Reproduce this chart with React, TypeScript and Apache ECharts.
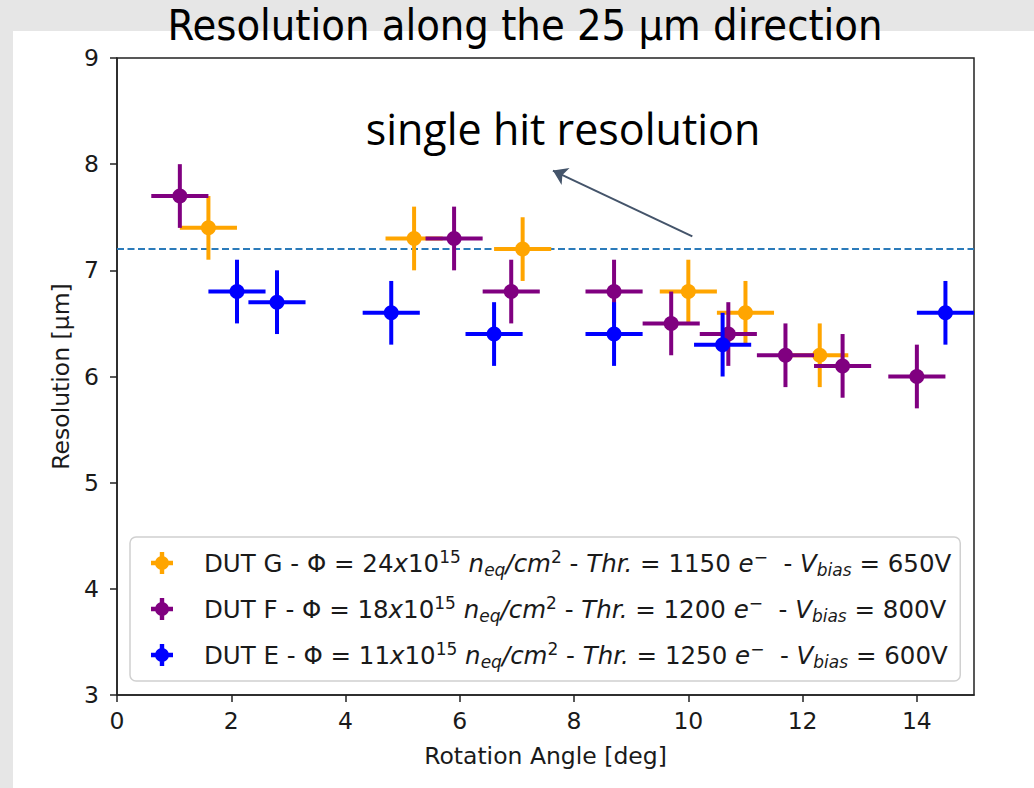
import React, { useEffect, useRef } from "react";
import * as echarts from "echarts";

// ---- data ----
const xTicks = [0, 2, 4, 6, 8, 10, 12, 14];
const yTicks = [3, 4, 5, 6, 7, 8, 9];

const gAngle = [1.6, 5.2, 7.1, 10.0, 11.0, 12.3];
const gRes = [7.4, 7.3, 7.2, 6.8, 6.6, 6.2];

const fAngle = [1.1, 5.9, 6.9, 8.7, 9.7, 10.7, 11.7, 12.7, 14.0];
const fRes = [7.7, 7.3, 6.8, 6.8, 6.5, 6.4, 6.2, 6.1, 6.0];

const eAngle = [2.1, 2.8, 4.8, 6.6, 8.7, 10.6, 14.5];
const eRes = [6.8, 6.7, 6.6, 6.4, 6.4, 6.3, 6.6];

const angleErr = 0.5;
const resErr = 0.3;

const singleHitRes = 7.2;
const arrowTail = [10.07, 7.32];
const arrowTip = [7.63, 7.94];

const seriesNames = ["DUT G", "DUT F", "DUT E"];
const seriesColors = ["#FFA500", "#800080", "#0000FF"];
const legendText: Record<string, string> = {
  "DUT G":
    "{n|DUT G - Φ = 24}{i|x}{n|10}{sup|15}{n| }{i|n}{sub|eq}{i|/cm}{sup|2}{n| - }{i|Thr.}{n| = 1150 }{i|e}{sup|−}{n|  - }{i|V}{sub|bias}{n| = 650V}",
  "DUT F":
    "{n|DUT F - Φ = 18}{i|x}{n|10}{sup|15}{n| }{i|n}{sub|eq}{i|/cm}{sup|2}{n| - }{i|Thr.}{n| = 1200 }{i|e}{sup|−}{n|  - }{i|V}{sub|bias}{n| = 800V}",
  "DUT E":
    "{n|DUT E - Φ = 11}{i|x}{n|10}{sup|15}{n| }{i|n}{sub|eq}{i|/cm}{sup|2}{n| - }{i|Thr.}{n| = 1250 }{i|e}{sup|−}{n|  - }{i|V}{sub|bias}{n| = 600V}",
};

const FONT = "'DejaVu Sans', sans-serif";
const TXT = "#1a1a1a";
const FS = 23.5;
const LFS = 24.5;

function makeData(xs: number[], ys: number[]) {
  return xs.map((x, i) => [x, ys[i], angleErr, resErr]);
}

function errRender(color: string) {
  return (params: any, api: any) => {
    const x = api.value(0);
    const y = api.value(1);
    const xe = api.value(2);
    const ye = api.value(3);
    const c = api.coord([x, y]);
    const l = api.coord([x - xe, y]);
    const r = api.coord([x + xe, y]);
    const b = api.coord([x, y - ye]);
    const t = api.coord([x, y + ye]);
    const lineStyle = { stroke: color, lineWidth: 4 };
    return {
      type: "group",
      children: [
        { type: "line", shape: { x1: l[0], y1: l[1], x2: r[0], y2: r[1] }, style: lineStyle },
        { type: "line", shape: { x1: b[0], y1: b[1], x2: t[0], y2: t[1] }, style: lineStyle },
        { type: "circle", shape: { cx: c[0], cy: c[1], r: 7.5 }, style: { fill: color } },
      ],
    };
  };
}

const ICON =
  "path://M8.8,0H13.2V22H8.8Z M0,8.8H22V13.2H0Z M18,11A7,7 0 1,1 4,11A7,7 0 1,1 18,11Z";

export default function App() {
  const ref = useRef<HTMLDivElement>(null);
  useEffect(() => {
    if (!ref.current) return;
    const chart = echarts.init(ref.current, undefined, { renderer: "svg" });
    const datasets = [makeData(gAngle, gRes), makeData(fAngle, fRes), makeData(eAngle, eRes)];
    const option: any = {
      animation: false,
      backgroundColor: "#ffffff",
      grid: {
        left: 117,
        right: 60,
        top: 58,
        bottom: 93,
        show: true,
        borderColor: "#222",
        borderWidth: 1.5,
        backgroundColor: "transparent",
      },
      xAxis: {
        type: "value",
        min: 0,
        max: 15,
        interval: 2,
        name: "Rotation Angle [deg]",
        nameLocation: "middle",
        nameGap: 49,
        nameTextStyle: { fontFamily: FONT, fontSize: FS, color: TXT },
        axisLine: { show: true, lineStyle: { color: "#222", width: 1.5 } },
        axisTick: { show: true, inside: false, length: 7, lineStyle: { color: "#222", width: 1.5 }, customValues: xTicks },
        axisLabel: { fontFamily: FONT, fontSize: FS, color: TXT, margin: 14, customValues: xTicks },
        splitLine: { show: false },
      },
      yAxis: {
        type: "value",
        min: 3,
        max: 9,
        interval: 1,
        name: "Resolution [µm]",
        nameLocation: "middle",
        nameGap: 43,
        nameRotate: 90,
        nameTextStyle: { fontFamily: FONT, fontSize: FS, color: TXT },
        axisLine: { show: true, lineStyle: { color: "#222", width: 1.5 } },
        axisTick: { show: true, inside: false, length: 7, lineStyle: { color: "#222", width: 1.5 }, customValues: yTicks },
        axisLabel: { fontFamily: FONT, fontSize: FS, color: TXT, margin: 18, customValues: yTicks },
        splitLine: { show: false },
      },
      legend: {
        data: seriesNames,
        orient: "vertical",
        left: 130,
        top: 537,
        backgroundColor: "rgba(255,255,255,0.9)",
        borderColor: "#d0d0d0",
        borderWidth: 1.5,
        borderRadius: 6,
        padding: [11, 9, 11, 21],
        itemGap: 16,
        itemWidth: 22,
        itemHeight: 22,
        icon: ICON,
        formatter: (name: string) => legendText[name] || name,
        textStyle: {
          fontFamily: FONT,
          fontSize: LFS,
          color: TXT,
          padding: [0, 0, 0, 26],
          rich: {
            n: { fontFamily: FONT, fontSize: LFS, color: TXT, lineHeight: 30 },
            i: { fontFamily: FONT, fontSize: LFS, fontStyle: "italic", color: TXT, lineHeight: 30 },
            sup: { fontFamily: FONT, fontSize: 17, color: TXT, lineHeight: 13, verticalAlign: "top" },
            sub: { fontFamily: FONT, fontSize: 17, fontStyle: "italic", color: TXT, lineHeight: 15, verticalAlign: "bottom" },
          },
        },
      },
      graphic: [
        { type: "rect", left: 0, top: 0, shape: { width: 1034, height: 31 }, style: { fill: "#e6e6e6" }, z: -10, silent: true },
        { type: "rect", left: 0, top: 0, shape: { width: 13, height: 788 }, style: { fill: "#e6e6e6" }, z: -10, silent: true },
        {
          type: "text",
          x: 525,
          y: 25,
          style: {
            text: "Resolution along the 25 µm direction",
            fontFamily: "'Liberation Sans Narrow', 'DejaVu Sans Condensed', 'Roboto', sans-serif",
            fontSize: 43,
            lineHeight: 40,
            fill: "#000",
            align: "center",
            verticalAlign: "middle",
            textAlign: "center",
            textVerticalAlign: "middle",
          },
          z: 10,
        },
        {
          type: "text",
          x: 563,
          y: 128,
          style: {
            text: "single hit resolution",
            fontFamily: "'Open Sans', sans-serif",
            fontSize: 43,
            fill: "#000",
            align: "center",
            verticalAlign: "middle",
            textAlign: "center",
            textVerticalAlign: "middle",
          },
          z: 10,
        },
      ],
      series: [
        {
          type: "line",
          name: "single hit",
          data: [
            [0, singleHitRes],
            [15, singleHitRes],
          ],
          symbol: "none",
          lineStyle: { color: "#2b7bba", width: 2, type: [7, 3.5] },
          z: 1,
          silent: true,
          markLine: {
            silent: true,
            symbol: ["none", "arrow"],
            symbolSize: 14,
            label: { show: false },
            lineStyle: { color: "#44546a", width: 2, type: "solid" },
            data: [[{ coord: arrowTail }, { coord: arrowTip }]],
          },
        },
        ...seriesNames.map((name, i) => ({
          type: "custom",
          name,
          data: datasets[i],
          renderItem: errRender(seriesColors[i]),
          itemStyle: { color: seriesColors[i] },
          encode: { x: 0, y: 1 },
          clip: true,
          z: 2 + i,
        })),
      ],
    };
    chart.setOption(option);
    return () => chart.dispose();
  }, []);
  return (
    <div
      ref={ref}
      style={{ position: "absolute", left: 0, top: 0, width: 1034, height: 788, background: "#fff" }}
    />
  );
}
